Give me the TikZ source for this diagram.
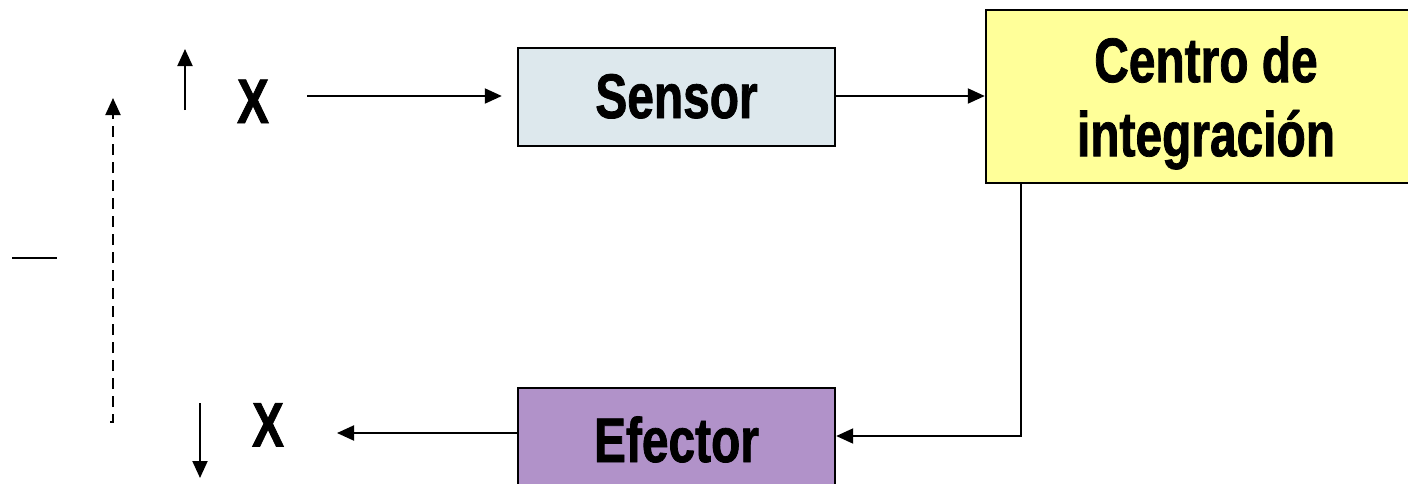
\documentclass[tikz,border=0pt]{standalone}
\usepackage{fontspec}
\setmainfont{Liberation Sans}[FakeStretch=0.76,FakeBold=1.2]
\usetikzlibrary{arrows.meta}
\definecolor{sensorfill}{HTML}{DDE8ED}
\definecolor{centrofill}{HTML}{FFFF99}
\definecolor{efectorfill}{HTML}{B192C9}
\begin{document}
\begin{tikzpicture}[x=1pt,y=-1pt,
  line width=2pt,
  arr/.style={-{Triangle[length=17pt,width=15pt]}},
  box/.style={draw=black, line width=2.4pt, inner sep=0pt, font=\fontsize{63}{74}\selectfont\bfseries},
  txt/.style={inner sep=0pt, font=\fontsize{63}{74}\selectfont\bfseries}
]
\useasboundingbox (0,0) rectangle (1408,483);
% boxes
\node[box, fill=sensorfill, minimum width=317pt, minimum height=98pt,
      text height=45pt, text depth=3pt] (sensor) at (676.5,97) {Sensor};
\node[box, fill=centrofill, minimum width=444pt, minimum height=173pt] (centro) at (1208,96.5) {};
\node[txt, align=center] (centrotext) at (1206,103) {Centro de\\integración};
\node[box, fill=efectorfill, minimum width=317pt, minimum height=122pt,
      text height=45pt, text depth=19pt] (efector) at (676.5,449) {Efector};
% X labels
\node[txt, text height=45pt, text depth=0pt] (xtop) at (253,100.5) {X};
\node[txt, text height=45pt, text depth=0pt] (xbot) at (268,424) {X};
% coordinates for free ends
\coordinate (upA) at (185,110);
\coordinate (upB) at (185,49);
\coordinate (dnA) at (200,403);
\coordinate (dnB) at (200,478);
\coordinate (dsA) at (110,422);
\coordinate (dsB) at (113,422);
\coordinate (dsC) at (113,98);
\coordinate (dashL) at (12,258);
\coordinate (dashR) at (57,258);
\coordinate (fb) at (1021,436);
\coordinate (inS) at (307,96);
\coordinate (outE) at (337,433);
% connectors
\draw[arr, shorten >=15pt] (inS) -- (inS -| sensor.west);
\draw[arr] (sensor.east |- 0,96) -- (centro.west |- 0,96);
\draw[arr] (centro.south -| fb) -- (fb) -- (fb -| efector.east);
\draw[arr] (efector.west |- outE) -- (outE);
\draw[arr] (upA) -- (upB);
\draw[arr] (dnA) -- (dnB);
\draw[arr, dash pattern=on 11pt off 7pt] (dsA) -- (dsB) -- (dsC);
\draw (dashL) -- (dashR);
\end{tikzpicture}
\end{document}
